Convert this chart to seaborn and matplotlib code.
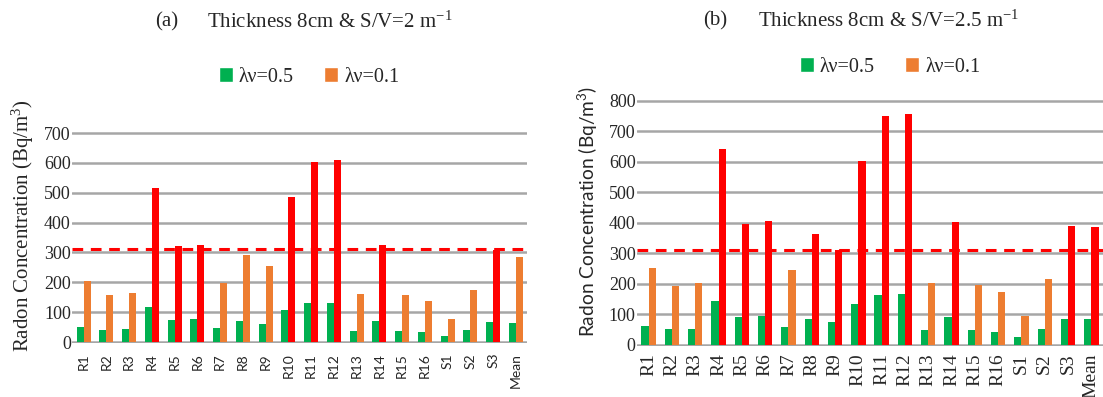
import pandas as pd
import matplotlib.pyplot as plt
from matplotlib.patches import Patch
import seaborn as sns

sns.set_style("white")
plt.rcParams['font.family'] = ['Liberation Serif', 'DejaVu Serif']
plt.rcParams['mathtext.default'] = 'regular'

sites = ['R1', 'R2', 'R3', 'R4', 'R5', 'R6', 'R7', 'R8', 'R9', 'R10', 'R11', 'R12',
         'R13', 'R14', 'R15', 'R16', 'S1', 'S2', 'S3', 'Mean']

# (a) thickness 8cm, S/V = 2
a_05 = [50, 39, 42, 116, 75, 76, 48, 69, 61, 108, 130, 132, 37, 71, 36, 32, 19, 40, 68, 63]
a_01 = [203, 157, 163, 517, 320, 326, 197, 292, 253, 486, 604, 609, 162, 325, 158, 138, 77, 174, 308, 286]

# (b) thickness 8cm, S/V = 2.5
b_05 = [62, 51, 53, 145, 93, 95, 60, 86, 75, 133, 164, 166, 49, 91, 48, 43, 26, 51, 85, 85]
b_01 = [253, 194, 204, 642, 396, 405, 246, 364, 310, 601, 750, 756, 202, 402, 197, 173, 96, 217, 388, 385]

limit = 312        # dashed reference level
red_above = 300    # bars above this are drawn red

green = '#00B050'
orange = '#ED7D31'
red = '#FF0000'


def make_df(v05, v01):
    d1 = pd.DataFrame({'site': sites, 'value': v05, 'series': 'λν=0.5'})
    d2 = pd.DataFrame({'site': sites, 'value': v01, 'series': 'λν=0.1'})
    return pd.concat([d1, d2], ignore_index=True)


fig = plt.figure(figsize=(11.03, 3.97), dpi=100)
ax_a = fig.add_axes([0.0655, 0.1355, 0.4125, 0.5385])
ax_b = fig.add_axes([0.5775, 0.128, 0.4225, 0.630])

panels = [(ax_a, make_df(a_05, a_01), 712, 700),
          (ax_b, make_df(b_05, b_01), 815, 800)]

for ax, df, ytop, ymax in panels:
    sns.barplot(data=df, x='site', y='value', hue='series', order=sites,
                palette=[green, orange], width=0.62, saturation=1,
                linewidth=0, legend=False, ax=ax)
    # the low-ventilation bars above the level are red
    for p in ax.patches:
        if p.get_facecolor()[0] > 0.8 and p.get_height() > red_above:
            p.set_facecolor(red)
    ax.axhline(limit, color=red, lw=2.2, ls=(0, (3.5, 2.5)), zorder=1)
    ax.set_ylim(-4, ytop)
    ax.set_xlim(-0.5, len(sites) - 0.5)
    ax.set_yticks(range(0, ymax + 1, 100))
    ax.yaxis.grid(True, color='#A6A6A6', lw=1.8)
    ax.set_axisbelow(True)
    sns.despine(ax=ax, left=True, bottom=True)
    ax.set_xlabel('')
    ax.tick_params(length=0)
    for t in ax.get_yticklabels():
        t.set_fontsize(13)

# panel (a): sans x labels, serif y label
ax_a.tick_params(axis='x', pad=7, labelrotation=90)
for t in ax_a.get_xticklabels():
    t.set_fontfamily('Lato')
    t.set_fontsize(10)
ax_a.tick_params(axis='y', pad=1)
ax_a.set_ylabel('Radon Concentration (Bq/m$^{3}$)', fontsize=15)
ax_a.yaxis.set_label_coords(-0.079, 0.548)

# panel (b): serif x labels, sans y label
ax_b.tick_params(axis='x', pad=5, labelrotation=90)
for t in ax_b.get_xticklabels():
    t.set_fontsize(14)
ax_b.tick_params(axis='y', pad=1)
ax_b.set_ylabel('Radon Concentration (Bq/m$^{3}$)', fontsize=13.8, family='Lato')
ax_b.yaxis.set_label_coords(-0.079, 0.537)

# titles
fig.text(155 / 1103, 1 - 22 / 397, '(a)', fontsize=15, va='center')
fig.text(207 / 1103, 1 - 22 / 397, 'Thickness 8cm & S/V=2 m$^{-1}$', fontsize=15, va='center')
fig.text(703 / 1103, 1 - 21 / 397, '(b)', fontsize=15, va='center')
fig.text(758 / 1103, 1 - 21 / 397, 'Thickness 8cm & S/V=2.5 m$^{-1}$', fontsize=15, va='center')

handles = [Patch(facecolor=green, label='λν=0.5'), Patch(facecolor=orange, label='λν=0.1')]
for cx, cy in [(309, 77), (890, 67)]:
    fig.legend(handles=handles, loc='center', bbox_to_anchor=(cx / 1103, 1 - cy / 397),
               ncol=2, frameon=False, fontsize=14.5, handlelength=0.7, handleheight=0.7,
               handletextpad=0.3, columnspacing=1.5)

fig.savefig('out.png', dpi=100)
